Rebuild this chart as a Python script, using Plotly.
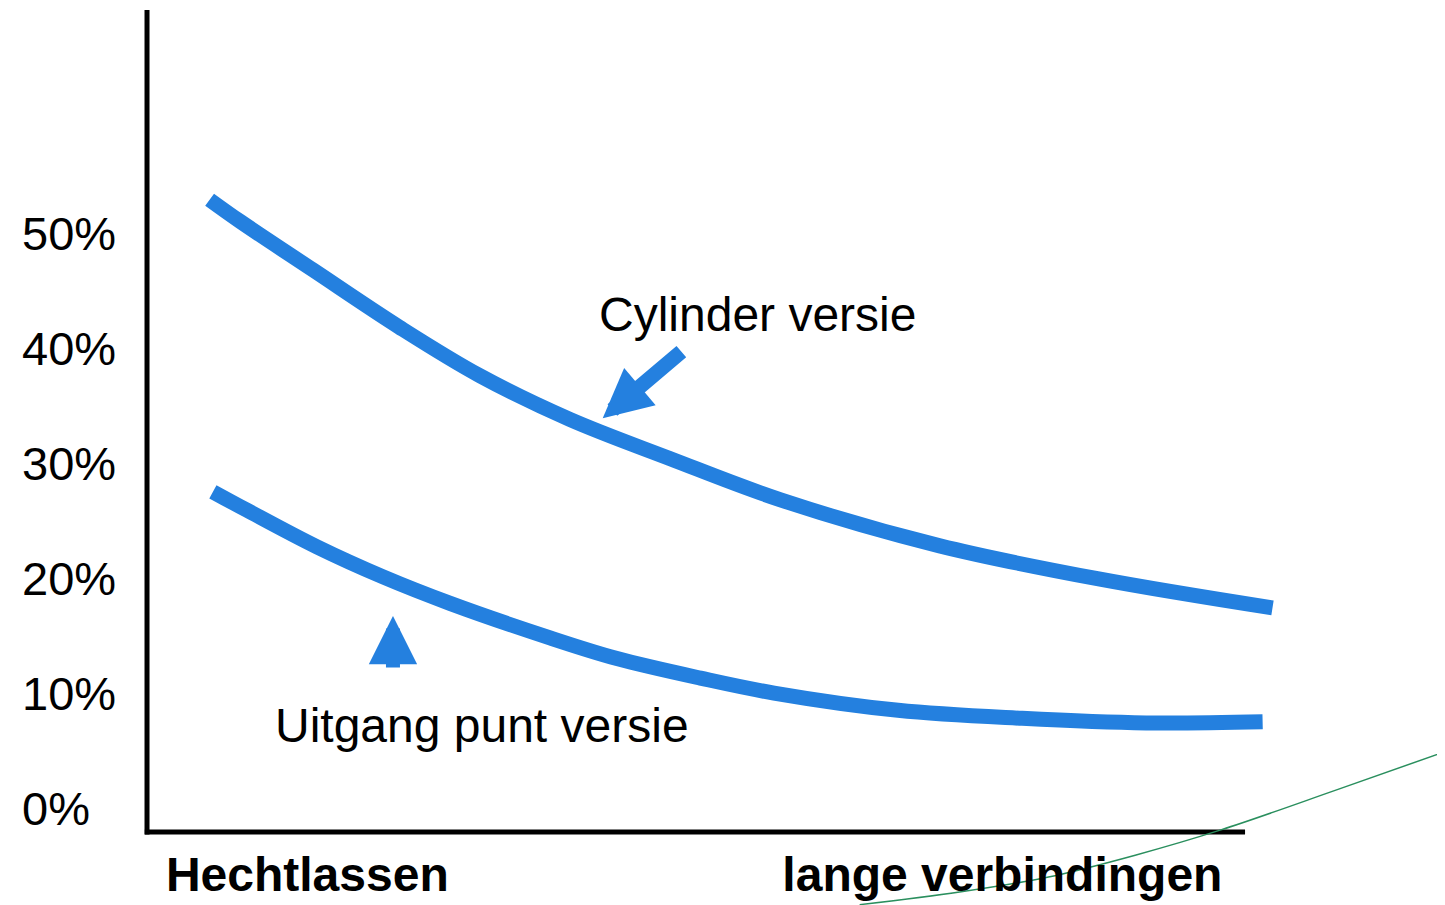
import plotly.graph_objects as go

# ---- data (x: 0 = y-axis, 100 = end of x-axis; y in %) ----
cyl_x = [5.7, 8.5, 15.1, 23.0, 30.3, 38.5, 47.6, 57.7, 72.2, 86.8, 102.5]
cyl_y = [52.9, 51.0, 46.8, 41.8, 37.6, 33.8, 30.4, 26.8, 22.8, 19.9, 17.4]

uit_x = [6.0, 9.1, 15.5, 21.5, 27.6, 36.7, 42.8, 50.4, 57.1, 68.4, 79.7, 91.0, 101.6]
uit_y = [27.5, 25.9, 22.7, 20.1, 17.8, 14.8, 13.0, 11.3, 10.0, 8.5, 7.8, 7.4, 7.5]

green_x = [64.9, 74.0, 82.1, 90.0, 97.8, 108.4, 118.2]
green_y = [-8.4, -7.3, -6.0, -4.1, -1.9, 1.6, 4.9]

y_ticks = [0, 10, 20, 30, 40, 50]
y_tick_labels = ["0%", "10%", "20%", "30%", "40%", "50%"]
x_ticks = [14.6, 77.9]
x_tick_labels = ["Hechtlassen", "lange verbindingen"]

BLUE = "#2480DF"
FONT = "Liberation Sans, Arial, sans-serif"

# page body has an 8px margin -> figure is 8px smaller, ranges adjusted
X_RANGE = [-12.66, 118.21]
Y_RANGE = [-8.43, 69.57]
AXIS_Y = -2.09
AXIS_TOP = 69.39

fig = go.Figure()
fig.add_trace(go.Scatter(x=cyl_x, y=cyl_y, mode="lines",
                         line=dict(color=BLUE, width=15, shape="spline", smoothing=1.0),
                         showlegend=False, hoverinfo="skip"))
fig.add_trace(go.Scatter(x=uit_x, y=uit_y, mode="lines",
                         line=dict(color=BLUE, width=15, shape="spline", smoothing=1.0),
                         showlegend=False, hoverinfo="skip"))
fig.add_trace(go.Scatter(x=green_x, y=green_y, mode="lines",
                         line=dict(color="#2A8F5E", width=1.5, shape="spline"),
                         showlegend=False, hoverinfo="skip"))

# axis lines
fig.add_shape(type="line", xref="x", yref="y", x0=0, x1=0, y0=AXIS_Y - 0.2, y1=AXIS_TOP,
              line=dict(color="black", width=5), layer="below")
fig.add_shape(type="line", xref="x", yref="y", x0=-0.2, x1=100, y0=AXIS_Y, y1=AXIS_Y,
              line=dict(color="black", width=5), layer="below")

# labels
fig.add_annotation(x=55.6, y=42.9, xref="x", yref="y", text="Cylinder versie",
                   showarrow=False, font=dict(family=FONT, size=48, color="black"))
fig.add_annotation(x=30.5, y=7.2, xref="x", yref="y", text="Uitgang punt versie",
                   showarrow=False, font=dict(family=FONT, size=48, color="black"))

# arrows
fig.add_annotation(x=41.5, y=33.9, ax=48.8, ay=39.8, xref="x", yref="y", axref="x", ayref="y",
                   text="", showarrow=True, arrowhead=2, arrowsize=0.65, arrowwidth=15,
                   arrowcolor=BLUE, standoff=0)
fig.add_annotation(x=22.4, y=16.7, ax=22.4, ay=12.1, xref="x", yref="y", axref="x", ayref="y",
                   text="", showarrow=True, arrowhead=2, arrowsize=0.69, arrowwidth=14,
                   arrowcolor=BLUE, standoff=0)

fig.update_layout(
    width=1437, height=897,
    margin=dict(l=0, r=0, t=0, b=0),
    paper_bgcolor="white", plot_bgcolor="white",
    xaxis=dict(range=X_RANGE, showgrid=False, zeroline=False, showline=False,
               tickvals=x_ticks, ticktext=x_tick_labels, ticks="",
               ticklabelposition="inside", ticklabelstandoff=1,
               tickfont=dict(family=FONT, size=48, color="black", weight="bold"),
               fixedrange=True),
    yaxis=dict(range=Y_RANGE, showgrid=False, zeroline=False, showline=False,
               tickvals=y_ticks, ticktext=y_tick_labels, ticks="",
               ticklabelposition="inside", ticklabelstandoff=11,
               tickfont=dict(family=FONT, size=47, color="black"),
               fixedrange=True),
)

fig.write_html("out.html")
